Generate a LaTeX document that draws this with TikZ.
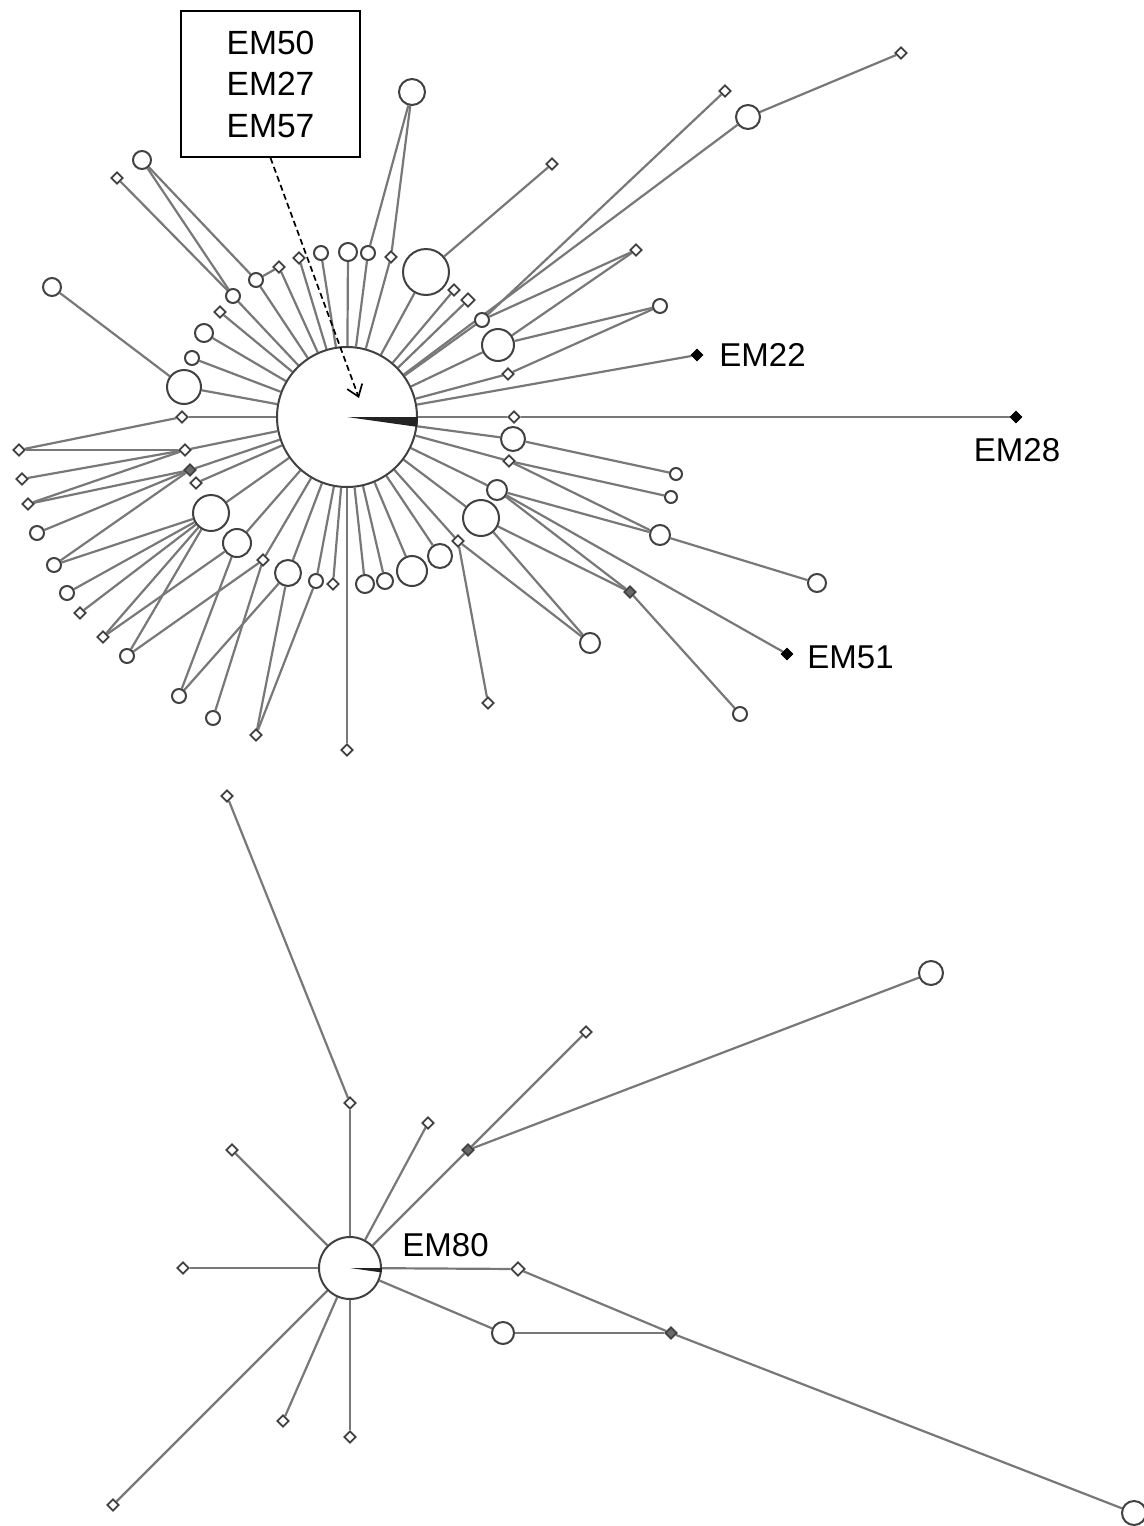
\documentclass[tikz,border=0pt]{standalone}
\usepackage{fontspec}
\setmainfont{Liberation Sans}
\usetikzlibrary{shapes.geometric,arrows.meta,backgrounds}
\definecolor{lg}{RGB}{120,120,120}
\definecolor{ng}{RGB}{65,65,65}
\definecolor{gf}{RGB}{105,105,105}
\definecolor{wedgec}{RGB}{35,35,35}
\tikzset{
  lnk/.style={draw=lg, line width=1.1pt},
  hc/.style={circle, draw=ng, line width=1pt, fill=white, inner sep=0pt, minimum size=#1pt},
  hd/.style={diamond, aspect=1, draw=ng, line width=0.9pt, fill=white, inner sep=0pt, minimum size=6pt},
  gd/.style={hd, fill=gf},
  bd/.style={diamond, aspect=1, draw=black, fill=black, inner sep=0pt, minimum size=6pt},
  lbl/.style={font=\fontsize{16.5}{20}\selectfont, inner sep=0pt},
}
\begin{document}
\begin{tikzpicture}[x=0.5pt,y=-0.5pt]
\useasboundingbox (0,0) rectangle (1144,1526);
% ---------- top cluster nodes ----------
\node[hc=70] (c) at (347,417) {};
\node[hc=9] (a1) at (142,160) {};
\node[hd] (a2) at (117,178) {};
\node[hc=9] (a3) at (52,287) {};
\node[hc=7] (a4) at (256,280) {};
\node[hd] (a5) at (279,267) {};
\node[hd] (a6) at (299,258) {};
\node[hc=7] (a7) at (321,253) {};
\node[hc=9] (a8) at (348,252) {};
\node[hc=7] (a9) at (368,253) {};
\node[hd] (a10) at (391,257) {};
\node[hc=7] (a11) at (233,296) {};
\node[hd] (a12) at (220,312) {};
\node[hc=9] (a13) at (204,333) {};
\node[hc=7] (a14) at (192,358) {};
\node[hc=17] (a15) at (184,387) {};
\node[hd] (a16) at (182,417) {};
\node[hc=13] (t1) at (412,92) {};
\node[hc=23] (b1) at (426,272) {};
\node[hd] (b2) at (552,164) {};
\node[hd] (b3) at (454,290) {};
\node[hd, minimum size=7pt] (b4) at (468,300) {};
\node[hc=7] (b5) at (482,320) {};
\node[hc=16] (b6) at (498,345) {};
\node[hd] (b7) at (636,250) {};
\node[hc=7] (b8) at (660,306) {};
\node[hd] (b9) at (508,374) {};
\node[bd] (em22) at (697,355) {};
\node[hd] (b10) at (725,91) {};
\node[hc=12] (b11) at (748,117) {};
\node[hd] (b12) at (901,53) {};
\node[hd] (r1) at (514,417) {};
\node[bd] (em28) at (1016,417) {};
\node[hc=12] (r2) at (513,439) {};
\node[hd] (r3) at (509,461) {};
\node[hc=10] (r4) at (497,490) {};
\node[hc=18] (r5) at (481,518) {};
\node[hd] (r6) at (458,541) {};
\node[hc=12] (r7) at (440,556) {};
\node[hc=15] (r8) at (412,571) {};
\node[hc=8] (r9) at (385,581) {};
\node[hc=9] (r10) at (365,584) {};
\node[hc=6] (r11) at (676,474) {};
\node[hc=6] (r12) at (671,497) {};
\node[hc=10] (r13) at (660,535) {};
\node[hc=9] (r14) at (817,583) {};
\node[gd] (r15) at (630,592) {};
\node[hc=10] (r16) at (590,643) {};
\node[bd] (em51) at (787,654) {};
\node[hd] (r17) at (488,703) {};
\node[hc=7] (r18) at (740,714) {};
\node[hd] (l1) at (347,750) {};
\node[hd] (l2) at (333,584) {};
\node[hc=7] (l3) at (316,581) {};
\node[hc=13] (l4) at (288,573) {};
\node[hd] (l5) at (263,560) {};
\node[hc=14] (l6) at (237,543) {};
\node[hc=18] (l7) at (211,513) {};
\node[hd] (l8) at (196,483) {};
\node[gd] (l9) at (190,470) {};
\node[hd] (l10) at (185,450) {};
\node[hd] (o1) at (19,450) {};
\node[hd] (o2) at (22,479) {};
\node[hd] (o3) at (28,504) {};
\node[hc=7] (o4) at (37,533) {};
\node[hc=7] (o5) at (54,565) {};
\node[hc=7] (o6) at (67,593) {};
\node[hd] (o7) at (80,613) {};
\node[hd] (o8) at (103,637) {};
\node[hc=7] (o9) at (127,656) {};
\node[hc=7] (o10) at (179,696) {};
\node[hc=7] (o11) at (213,718) {};
\node[hd] (o12) at (256,735) {};
% ---------- bottom cluster nodes ----------
\node[hc=31] (e80) at (350,1268) {};
\node[hd] (m1) at (227,796) {};
\node[hd] (m2) at (350,1103) {};
\node[hd] (m3) at (428,1123) {};
\node[hd] (m4) at (232,1150) {};
\node[gd] (m5) at (468,1150) {};
\node[hd] (m6) at (586,1032) {};
\node[hc=12] (m7) at (931,973) {};
\node[hd] (m8) at (183,1268) {};
\node[hd, minimum size=7pt] (m9) at (518,1269) {};
\node[hc=11] (m10) at (503,1333) {};
\node[gd] (m11) at (671,1333) {};
\node[hc=12] (m12) at (1134,1513) {};
\node[hd] (m13) at (283,1421) {};
\node[hd] (m14) at (350,1437) {};
\node[hd] (m15) at (113,1505) {};
% ---------- connectors (under the nodes) ----------
\begin{pgfonlayer}{background}
\fill[white] (0,0) rectangle (1144,1526);
\foreach \p/\q in {c/a4,c/a5,c/a6,c/a7,c/a8,c/a9,c/a10,c/a11,c/a12,c/a13,c/a14,c/a15,c/a16,
  a1/a4,a1/a11,a2/a11,a3/a15,a4/a5,t1/a9,t1/a10,
  c/b1,c/b3,c/b4,c/b5,c/b6,c/b9,c/em22,c/b11,
  b1/b2,b5/b7,b5/b10,b6/b7,b6/b8,b9/b8,b11/b12,
  c/r1,r1/em28,c/r2,c/r3,c/r4,c/r5,c/r6,c/r7,c/r8,c/r9,c/r10,
  r2/r11,r3/r12,r3/r13,r4/r13,r4/r15,r4/em51,r5/r15,r5/r16,r6/r16,r6/r17,r15/r18,r13/r14,
  c/l1,c/l2,c/l3,c/l4,c/l5,c/l6,c/l7,c/l8,c/l9,c/l10,
  o1/a16,o1/l10,o2/l10,o3/l9,o3/l10,o4/l9,o5/l7,o5/l9,o6/l7,o7/l7,o8/l7,o8/l6,
  o9/l7,o9/l5,o10/l6,o10/l4,o11/l5,o12/l4,o12/l3,
  m1/m2,m2/e80,m3/e80,m4/e80,m5/e80,m6/m5,m7/m5,m8/e80,e80/m9,m9/m11,
  e80/m10,m10/m11,m11/m12,e80/m13,e80/m14,e80/m15}
  \draw[lnk] (\p) -- (\q);
\end{pgfonlayer}
% ---------- pie wedges ----------
\fill[wedgec] (c.center) -- (c.0) -- (c.-8) -- cycle;
\fill[wedgec] (e80.center) -- (e80.0) -- (e80.-8) -- cycle;
% ---------- labels ----------
\node[lbl, anchor=west] (t22) at (719,355) {EM22};
\node[lbl] (t28) at (1017,450) {EM28};
\node[lbl, anchor=west] (t51) at (807,657) {EM51};
\node[lbl, anchor=west] (t80) at (402,1245) {EM80};
\node[draw=black, line width=0.9pt, minimum width=89.5pt, minimum height=73pt,
      align=center, inner sep=0pt, font=\fontsize{16.8}{20.75}\selectfont]
      (box) at (270.5,84) {EM50\\EM27\\EM57};
\coordinate (tip) at (359,398);
\draw[black, line width=0.85pt, dash pattern=on 3pt off 1.8pt,
      -{Straight Barb[length=5.5pt,width=8pt]}] (box.south) -- (tip);
\end{tikzpicture}
\end{document}
